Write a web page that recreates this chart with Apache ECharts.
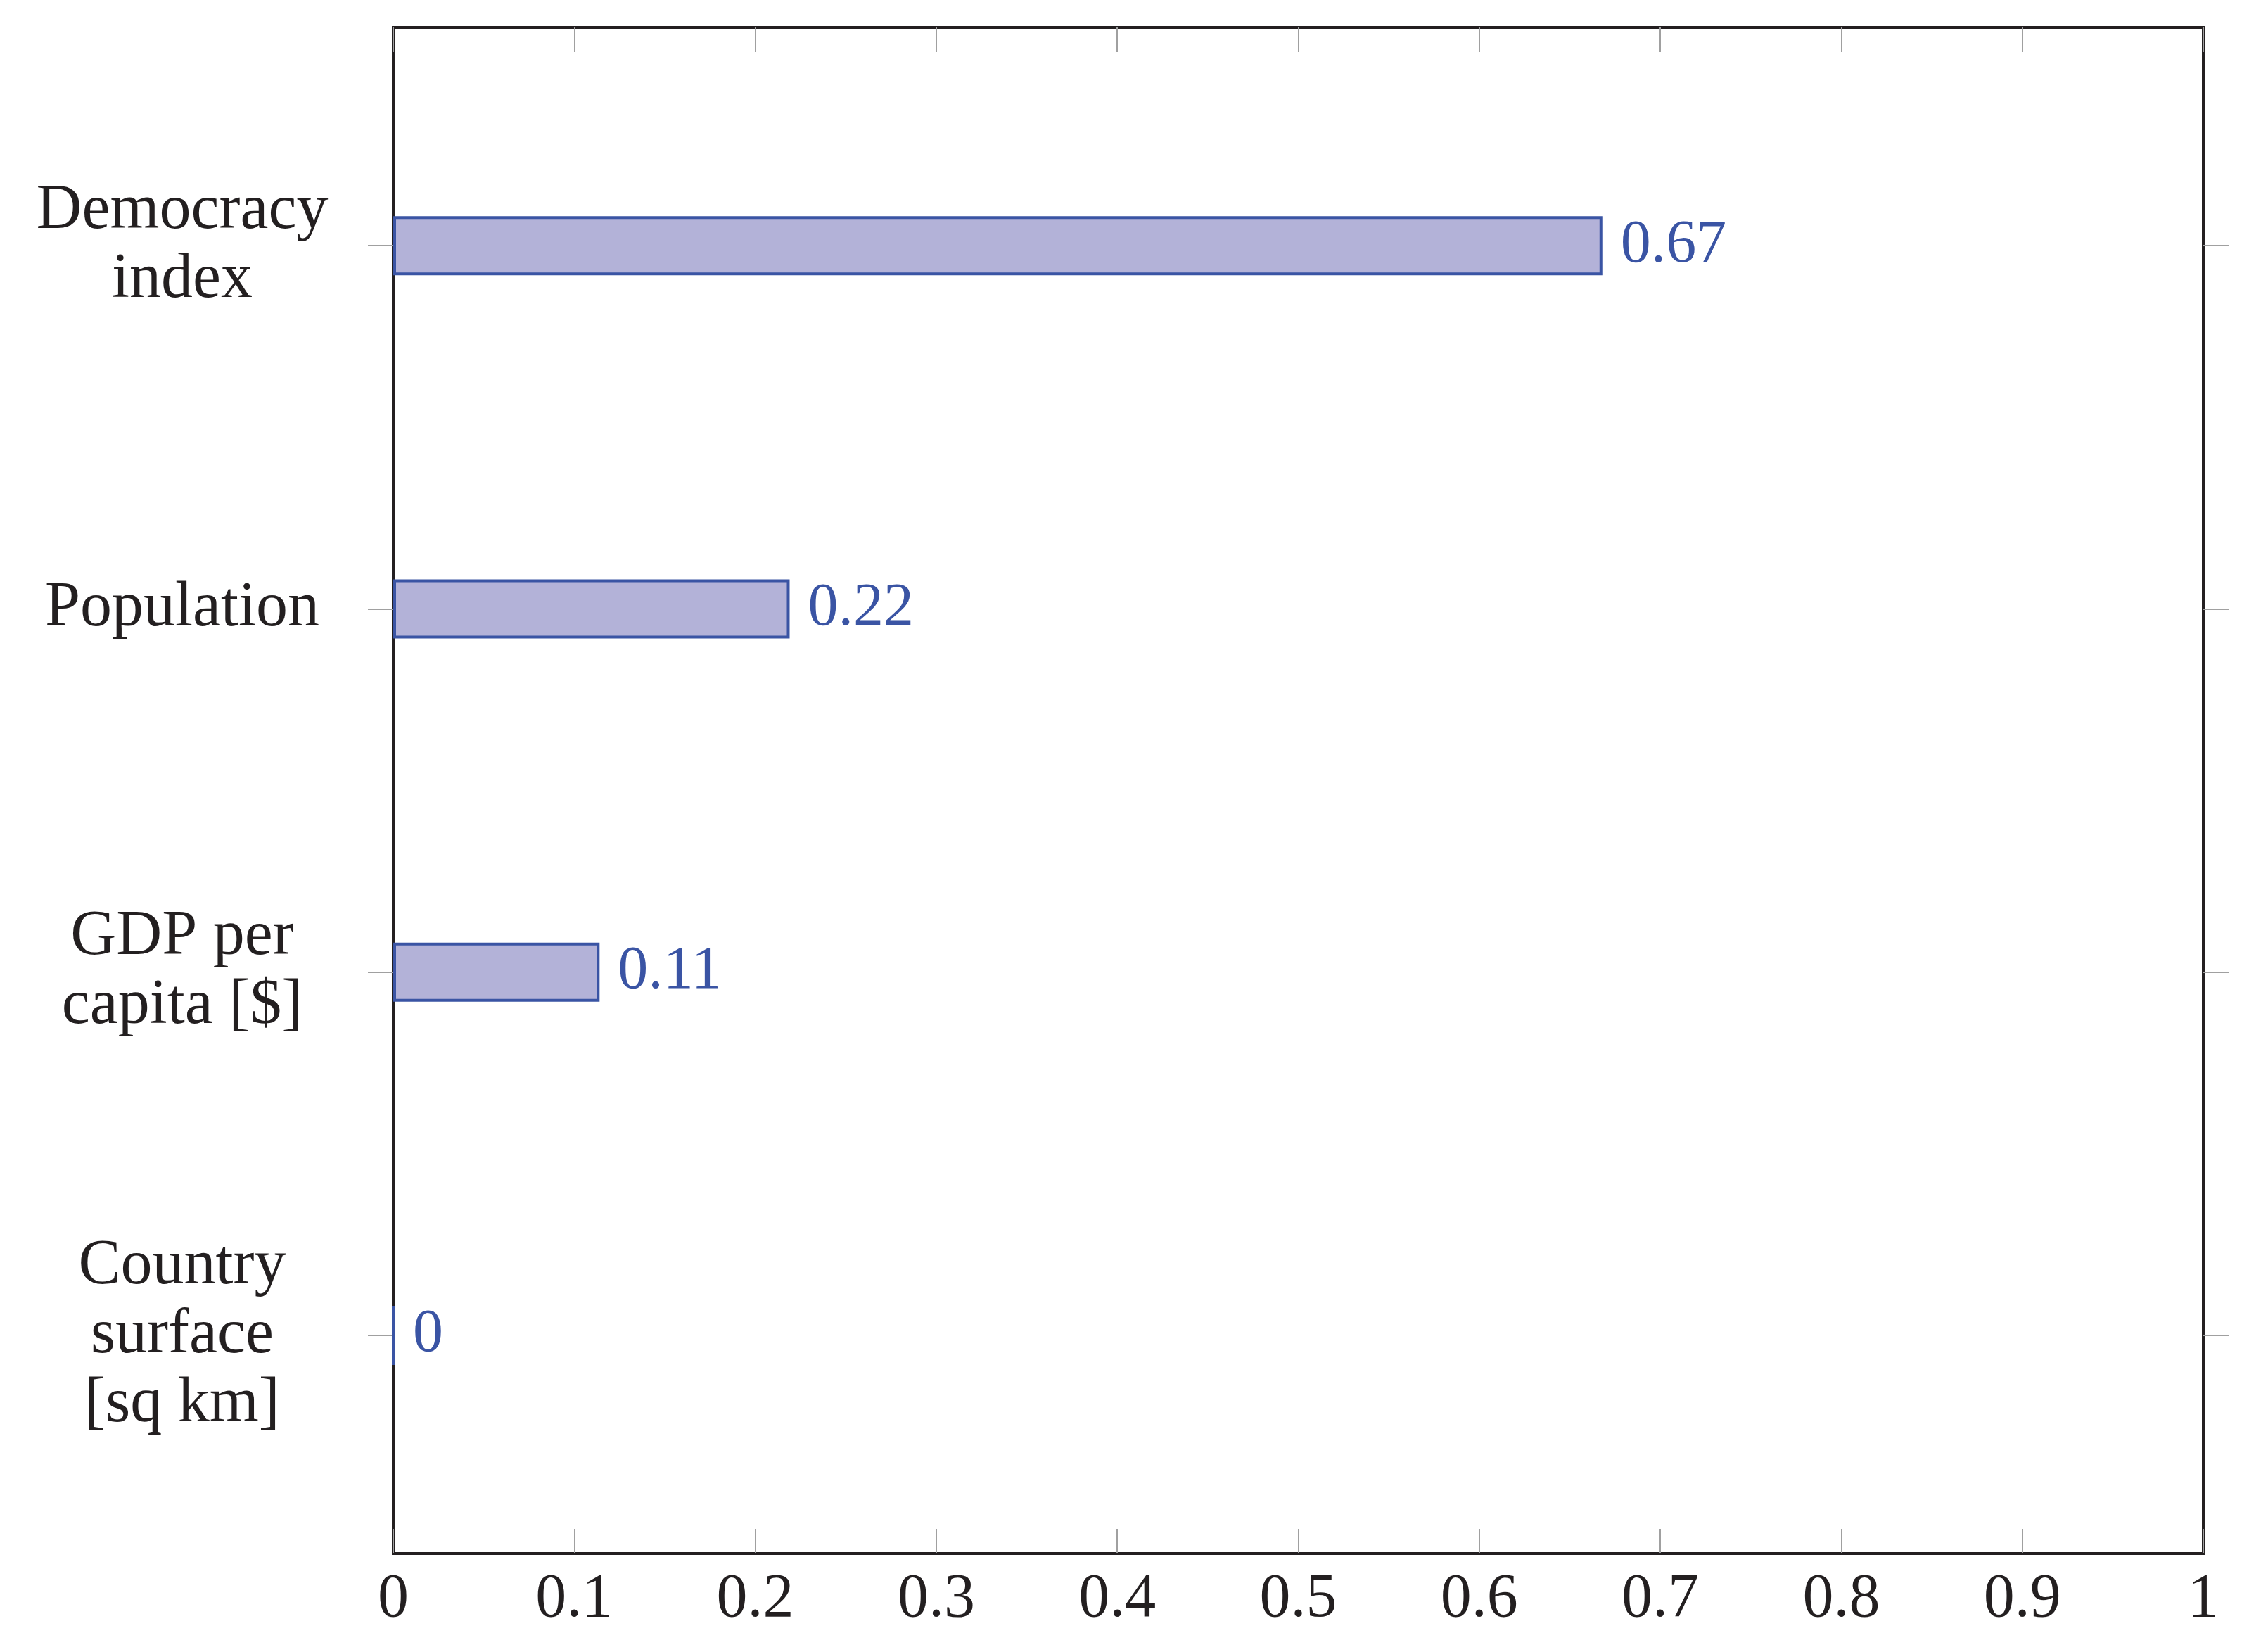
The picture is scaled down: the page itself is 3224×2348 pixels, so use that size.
<!DOCTYPE html>
<html>
<head>
<meta charset="utf-8">
<script src="https://cdn.jsdelivr.net/npm/echarts@6/dist/echarts.min.js"></script>
<style>
  html, body { margin: 0; padding: 0; background: #fff; }
  #chart { width: 3224px; height: 2348px; }
</style>
</head>
<body>
<div id="chart"></div>
<script>
// bottom to top, as the category axis draws them
const categories = ['Country\nsurface\n[sq km]', 'GDP per\ncapita [$]', 'Population', 'Democracy\nindex']
const shares = [0, 0.114, 0.219, 0.668]
const xMin = 0
const xMax = 1
const xStep = 0.1

const ink = '#231f20'
const tickGray = '#a0a0a0'
const barFill = '#b3b2d8'
const barEdge = '#3a54a4'
const serif = 'Liberation Serif'

function shortNum(v) {
    return String(Number(v.toFixed(2)))
}

let chart = echarts.init(document.getElementById('chart'))
chart.setOption({
    animation: false,
    backgroundColor: '#ffffff',
    grid: [
        // frame and x axis
        { left: 559, right: 92, top: 39, bottom: 140, show: true, borderColor: ink, borderWidth: 4, backgroundColor: 'transparent' },
        // bars, enlarged 0.1 band past the frame on each end
        { left: 559, right: 92, top: 91, bottom: 192 }
    ],
    xAxis: [
        {
            gridIndex: 0, type: 'value', min: xMin, max: xMax, interval: xStep, position: 'bottom',
            axisLine: { show: false },
            splitLine: { show: false },
            axisTick: { show: true, inside: true, length: 35, lineStyle: { color: tickGray, width: 2 } },
            axisLabel: { show: true, margin: 22, color: ink, fontFamily: serif, fontSize: 88, formatter: shortNum }
        },
        {
            gridIndex: 0, type: 'value', min: xMin, max: xMax, interval: xStep, position: 'top',
            axisLine: { show: false },
            splitLine: { show: false },
            axisTick: { show: true, inside: true, length: 35, lineStyle: { color: tickGray, width: 2 } },
            axisLabel: { show: false }
        },
        {
            gridIndex: 1, type: 'value', min: xMin, max: xMax, show: false
        }
    ],
    yAxis: [
        { gridIndex: 0, type: 'value', show: false },
        {
            gridIndex: 1, type: 'category', data: categories, position: 'left',
            axisLine: { show: false },
            splitLine: { show: false },
            axisTick: { show: true, alignWithLabel: true, interval: 0, length: 36, lineStyle: { color: tickGray, width: 2 } },
            axisLabel: {
                interval: 0, margin: 300, align: 'center', color: ink,
                fontFamily: serif, fontSize: 90, lineHeight: 98, padding: [18, 0, 0, 0]
            }
        },
        {
            gridIndex: 1, type: 'category', data: categories, position: 'right',
            axisLine: { show: false },
            splitLine: { show: false },
            axisTick: { show: true, alignWithLabel: true, interval: 0, length: 36, lineStyle: { color: tickGray, width: 2 } },
            axisLabel: { show: false }
        }
    ],
    series: [
        {
            type: 'bar',
            xAxisIndex: 2,
            yAxisIndex: 1,
            data: shares,
            barWidth: 84,
            itemStyle: { color: barFill, borderColor: barEdge, borderWidth: 4 },
            label: {
                show: true, position: 'right', distance: 26,
                color: barEdge, fontFamily: serif, fontSize: 86,
                padding: [12, 0, 0, 0],
                formatter: p => shortNum(p.value)
            }
        }
    ]
})
</script>
</body>
</html>
